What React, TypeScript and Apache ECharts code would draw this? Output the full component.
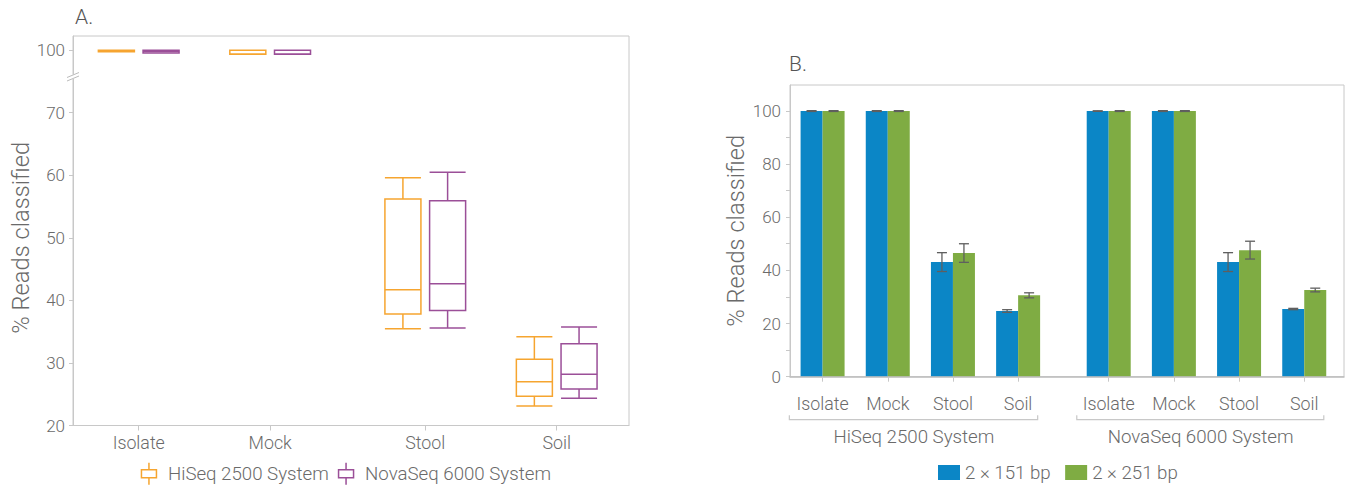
import React, { useEffect, useRef } from 'react';
import * as echarts from 'echarts';

// ---------- Panel A data ----------
const categoriesA = ['Isolate', 'Mock', 'Stool', 'Soil'];
const categoryPosA = [1, 2, 3.18, 4.18];
const seriesNamesA = ['HiSeq 2500 System', 'NovaSeq 6000 System'];
// [min, Q1, median, Q3, max]
const hiseqStats = [
  [99.75, 99.75, 99.87, 100, 100],
  [99.35, 99.35, 99.35, 99.98, 99.98],
  [35.48, 37.83, 41.7, 56.2, 59.6],
  [23.1, 24.67, 27.0, 30.58, 34.2],
];
const novaseqStats = [
  [99.55, 99.55, 99.78, 100, 100],
  [99.35, 99.35, 99.35, 99.98, 99.98],
  [35.6, 38.4, 42.67, 55.94, 60.48],
  [24.35, 25.84, 28.2, 33.08, 35.75],
];
const yTickValuesA = [20, 30, 40, 50, 60, 70, 100];

// ---------- Panel B data ----------
const categoriesB = ['Isolate', 'Mock', 'Stool', 'Soil', 'Isolate', 'Mock', 'Stool', 'Soil'];
const categoryPosB = [1, 2, 3, 4, 5.39, 6.39, 7.39, 8.39];
const groupLabelsB = ['HiSeq 2500 System', 'NovaSeq 6000 System'];
const groupLabelPosB = [2.4, 6.8];
const groupSpanB = [
  [0.49, 4.3],
  [4.9, 8.69],
];
const seriesNamesB = ['2 × 151 bp', '2 × 251 bp'];
const bp151 = [99.9, 99.9, 43.1, 24.7, 99.9, 99.9, 43.1, 25.45];
const bp151Err = [0.15, 0.15, 3.55, 0.5, 0.1, 0.15, 3.55, 0.25];
const bp251 = [99.9, 99.9, 46.5, 30.6, 99.9, 99.9, 47.6, 32.6];
const bp251Err = [0.15, 0.15, 3.5, 0.95, 0.15, 0.15, 3.35, 0.7];
const yTicksB = [0, 10, 20, 30, 40, 50, 60, 70, 80, 90, 100];
const yLabelsB = [0, 20, 40, 60, 80, 100];

const ORANGE = '#F6A530';
const PURPLE = '#9B4F98';
const BLUE = '#0B86C6';
const GREEN = '#7FAC43';
const ERR = '#5f5f5f';
const FRAME = '#c8c8c8';
const TEXT = '#6a6a6a';
const FONT = 'Roboto, "Noto Sans", "DejaVu Sans", sans-serif';

const BOX_ICON = 'path://M7.5,0L7.5,7M0,7L15,7L15,15L0,15ZM7.5,15L7.5,22';

// broken axis: values near 100 are drawn one interval above 70
function mapA(v: number) {
  return v >= 90 ? v - 20 : v;
}

function findLabel(values: number[], names: string[], v: number) {
  for (let i = 0; i < values.length; i++) {
    if (Math.abs(values[i] - v) < 1e-6) return names[i];
  }
  return '';
}

function boxRenderer(side: number, color: string) {
  return (params: any, api: any) => {
    const x = api.value(0);
    const unit = api.size([1, 0])[0];
    const cx = api.coord([x, 20])[0] + side * unit * 0.17;
    const half = unit * 0.137;
    const y = (i: number) => api.coord([x, mapA(api.value(i))])[1];
    const ymin = y(1);
    const yq1 = y(2);
    const ymed = y(3);
    const yq3 = y(4);
    const ymax = y(5);
    const style = { stroke: color, lineWidth: 1.5, fill: 'none' };
    const children: any[] = [];
    if (Math.abs(ymax - yq3) > 0.5) {
      children.push({ type: 'line', shape: { x1: cx, y1: ymax, x2: cx, y2: yq3 }, style });
      children.push({ type: 'line', shape: { x1: cx - half, y1: ymax, x2: cx + half, y2: ymax }, style });
    }
    if (Math.abs(ymin - yq1) > 0.5) {
      children.push({ type: 'line', shape: { x1: cx, y1: yq1, x2: cx, y2: ymin }, style });
      children.push({ type: 'line', shape: { x1: cx - half, y1: ymin, x2: cx + half, y2: ymin }, style });
    }
    children.push({
      type: 'rect',
      shape: { x: cx - half, y: yq3, width: half * 2, height: yq1 - yq3 },
      style,
    });
    children.push({ type: 'line', shape: { x1: cx - half, y1: ymed, x2: cx + half, y2: ymed }, style });
    return { type: 'group', children };
  };
}

function barRenderer(side: number, color: string) {
  return (params: any, api: any) => {
    const x = api.value(0);
    const v = api.value(1);
    const e = api.value(2);
    const unit = api.size([1, 0])[0];
    const w = unit * 0.3375;
    const base = api.coord([x, 0]);
    const top = api.coord([x, v])[1];
    const x0 = side < 0 ? base[0] - w : base[0];
    const ex = x0 + w / 2;
    const yHi = api.coord([x, v + e])[1];
    const yLo = api.coord([x, v - e])[1];
    const cap = 5;
    const es = { stroke: ERR, lineWidth: 1.3 };
    return {
      type: 'group',
      children: [
        { type: 'rect', shape: { x: x0, y: top, width: w, height: base[1] - top }, style: { fill: color } },
        { type: 'line', shape: { x1: ex, y1: yHi, x2: ex, y2: yLo }, style: es },
        { type: 'line', shape: { x1: ex - cap, y1: yHi, x2: ex + cap, y2: yHi }, style: es },
        { type: 'line', shape: { x1: ex - cap, y1: yLo, x2: ex + cap, y2: yLo }, style: es },
      ],
    };
  };
}

function bracketRenderer(params: any, api: any) {
  const p0 = api.coord([api.value(0), 0]);
  const p1 = api.coord([api.value(1), 0]);
  const y = p0[1] + 43;
  return {
    type: 'polyline',
    shape: {
      points: [
        [p0[0], y - 4.5],
        [p0[0], y],
        [p1[0], y],
        [p1[0], y - 4.5],
      ],
    },
    style: { stroke: FRAME, lineWidth: 1.2, fill: 'none' },
  };
}

function buildOption() {
  const labelStyle = { color: TEXT, fontSize: 17.8, fontFamily: FONT, fontWeight: 300 };
  return {
    animation: false,
    backgroundColor: '#ffffff',
    textStyle: { fontFamily: FONT },
    title: [
      {
        text: 'A.',
        left: 75,
        top: 6,
        padding: 0,
        textStyle: { fontSize: 21, fontWeight: 300, color: '#555', fontFamily: FONT },
      },
      {
        text: 'B.',
        left: 789,
        top: 53,
        padding: 0,
        textStyle: { fontSize: 21, fontWeight: 300, color: '#555', fontFamily: FONT },
      },
    ],
    legend: [
      {
        left: 140.7,
        top: 462,
        padding: 0,
        itemWidth: 28,
        itemHeight: 22,
        itemGap: 9,
        selectedMode: false,
        textStyle: { fontSize: 18.7, color: TEXT, fontFamily: FONT, fontWeight: 300 },
        data: [
          {
            name: seriesNamesA[0],
            icon: BOX_ICON,
            itemStyle: { color: 'rgba(0,0,0,0)', borderColor: ORANGE, borderWidth: 1.5 },
          },
          {
            name: seriesNamesA[1],
            icon: BOX_ICON,
            itemStyle: { color: 'rgba(0,0,0,0)', borderColor: PURPLE, borderWidth: 1.5 },
          },
        ],
      },
      {
        left: 938,
        top: 463,
        padding: 0,
        itemWidth: 22,
        itemHeight: 15,
        itemGap: 14.5,
        selectedMode: false,
        textStyle: { fontSize: 18.7, color: TEXT, fontFamily: FONT, fontWeight: 300 },
        data: [
          { name: seriesNamesB[0], icon: 'rect', itemStyle: { color: BLUE } },
          { name: seriesNamesB[1], icon: 'rect', itemStyle: { color: GREEN } },
        ],
      },
    ],
    grid: [
      {
        left: 73,
        top: 36,
        width: 556,
        height: 389.5,
        show: true,
        borderColor: FRAME,
        borderWidth: 1,
        outerBoundsMode: 'none',
      },
      {
        left: 790,
        top: 85,
        width: 554,
        height: 291.7,
        show: true,
        borderColor: FRAME,
        borderWidth: 1,
        outerBoundsMode: 'none',
      },
    ],
    xAxis: [
      {
        type: 'value',
        gridIndex: 0,
        min: 0.5,
        max: 4.73,
        splitLine: { show: false },
        axisLine: { show: true, lineStyle: { color: FRAME, width: 1 } },
        axisTick: { show: true, length: 5, customValues: categoryPosA, lineStyle: { color: FRAME } },
        axisLabel: {
          ...labelStyle,
          margin: 8,
          customValues: categoryPosA,
          formatter: (v: number) => findLabel(categoryPosA, categoriesA, v),
        },
      },
      {
        type: 'value',
        gridIndex: 1,
        min: 0.5,
        max: 9,
        z: 5,
        splitLine: { show: false },
        axisLine: { show: true, lineStyle: { color: '#bdbdbd', width: 1.5 } },
        axisTick: { show: true, length: 5, customValues: categoryPosB, lineStyle: { color: FRAME } },
        axisLabel: {
          ...labelStyle,
          margin: 18,
          customValues: categoryPosB,
          formatter: (v: number) => findLabel(categoryPosB, categoriesB, v),
        },
      },
      {
        type: 'value',
        gridIndex: 1,
        position: 'bottom',
        min: 0.5,
        max: 9,
        splitLine: { show: false },
        axisLine: { show: false },
        axisTick: { show: false },
        axisLabel: {
          ...labelStyle,
          fontSize: 18.7,
          margin: 51,
          customValues: groupLabelPosB,
          formatter: (v: number) => findLabel(groupLabelPosB, groupLabelsB, v),
        },
      },
    ],
    yAxis: [
      {
        type: 'value',
        gridIndex: 0,
        min: 20,
        max: 82.27,
        splitLine: { show: false },
        axisLine: { show: true, lineStyle: { color: FRAME, width: 1 } },
        axisTick: { show: true, length: 4, customValues: yTickValuesA.map(mapA), lineStyle: { color: FRAME } },
        axisLabel: {
          ...labelStyle,
          fontSize: 17,
          margin: 8,
          customValues: yTickValuesA.map(mapA),
          formatter: (v: number) => findLabel(yTickValuesA.map(mapA), yTickValuesA.map(String), v),
        },
        name: '% Reads classified',
        nameLocation: 'middle',
        nameRotate: 90,
        nameGap: 40,
        nameMoveOverlap: false,
        nameTextStyle: { fontSize: 23.7, color: TEXT, fontFamily: FONT, fontWeight: 300, padding: [0, 14, 0, 0] },
      },
      {
        type: 'value',
        gridIndex: 1,
        min: 0,
        max: 109.7,
        splitLine: { show: false },
        axisLine: { show: true, lineStyle: { color: FRAME, width: 1 } },
        axisTick: { show: true, length: 4, customValues: yTicksB, lineStyle: { color: FRAME } },
        axisLabel: {
          ...labelStyle,
          fontSize: 17,
          margin: 9,
          customValues: yLabelsB,
          formatter: (v: number) => String(Math.round(v)),
        },
        name: '% Reads classified',
        nameLocation: 'middle',
        nameRotate: 90,
        nameGap: 42,
        nameMoveOverlap: false,
        nameTextStyle: { fontSize: 23.7, color: TEXT, fontFamily: FONT, fontWeight: 300 },
      },
    ],
    series: [
      {
        type: 'custom',
        name: seriesNamesA[0],
        xAxisIndex: 0,
        yAxisIndex: 0,
        itemStyle: { color: ORANGE },
        renderItem: boxRenderer(-1, ORANGE),
        data: categoryPosA.map((x, i) => [x, ...hiseqStats[i]]),
      },
      {
        type: 'custom',
        name: seriesNamesA[1],
        xAxisIndex: 0,
        yAxisIndex: 0,
        itemStyle: { color: PURPLE },
        renderItem: boxRenderer(1, PURPLE),
        data: categoryPosA.map((x, i) => [x, ...novaseqStats[i]]),
      },
      {
        type: 'custom',
        name: seriesNamesB[0],
        xAxisIndex: 1,
        yAxisIndex: 1,
        itemStyle: { color: BLUE },
        renderItem: barRenderer(-1, BLUE),
        data: categoryPosB.map((x, i) => [x, bp151[i], bp151Err[i]]),
      },
      {
        type: 'custom',
        name: seriesNamesB[1],
        xAxisIndex: 1,
        yAxisIndex: 1,
        itemStyle: { color: GREEN },
        renderItem: barRenderer(1, GREEN),
        data: categoryPosB.map((x, i) => [x, bp251[i], bp251Err[i]]),
      },
      {
        type: 'custom',
        name: 'groups',
        xAxisIndex: 1,
        yAxisIndex: 1,
        silent: true,
        clip: false,
        renderItem: bracketRenderer,
        data: groupSpanB,
      },
    ],
    graphic: [
      {
        type: 'rect',
        z: 100,
        shape: { x: 70.5, y: 74.5, width: 5, height: 4.5 },
        style: { fill: '#ffffff' },
      },
      {
        type: 'line',
        z: 101,
        shape: { x1: 67, y1: 77.5, x2: 79, y2: 72.5 },
        style: { stroke: '#bbbbbb', lineWidth: 1 },
      },
      {
        type: 'line',
        z: 101,
        shape: { x1: 67, y1: 81, x2: 79, y2: 76 },
        style: { stroke: '#bbbbbb', lineWidth: 1 },
      },
    ],
  };
}

export default function App() {
  const ref = useRef<HTMLDivElement>(null);
  useEffect(() => {
    if (!ref.current) return;
    const chart = echarts.init(ref.current, null, { renderer: 'svg' });
    chart.setOption(buildOption() as any);
    return () => chart.dispose();
  }, []);
  return (
    <div
      ref={ref}
      style={{ position: 'fixed', left: 0, top: 0, width: 1347, height: 487, background: '#fff' }}
    />
  );
}
